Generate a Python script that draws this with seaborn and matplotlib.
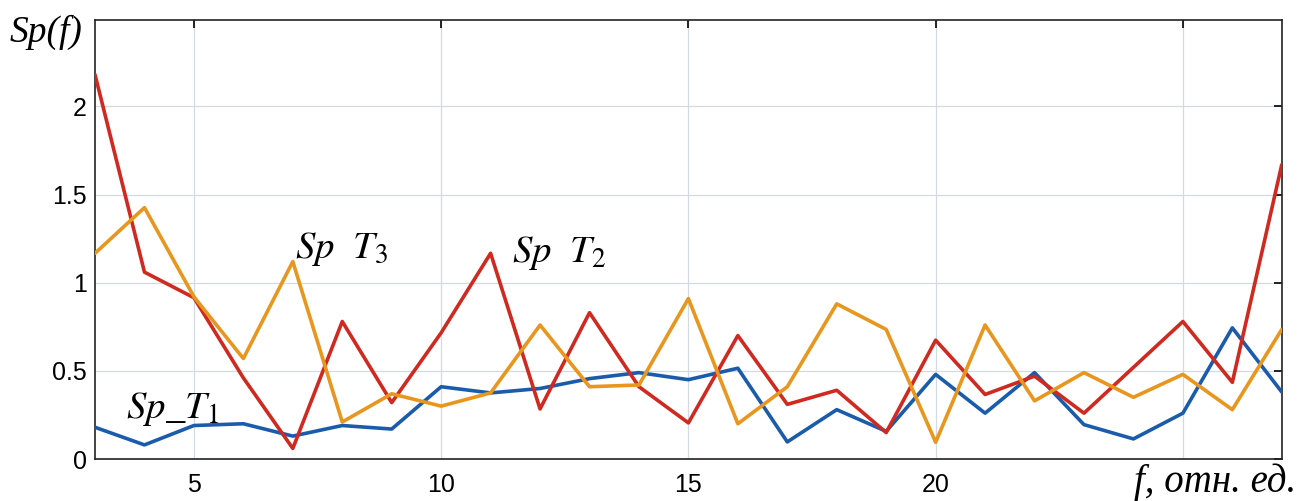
import numpy as np
import pandas as pd
import matplotlib
matplotlib.use("Agg")
import matplotlib.pyplot as plt
import seaborn as sns

freq = list(range(3, 28))
sp_t1 = [0.18, 0.08, 0.19, 0.20, 0.13, 0.19, 0.17, 0.41, 0.375, 0.40, 0.456, 0.49, 0.45,
         0.515, 0.097, 0.28, 0.157, 0.48, 0.26, 0.49, 0.195, 0.114, 0.26, 0.744, 0.38]
sp_t2 = [2.18, 1.06, 0.915, 0.46, 0.06, 0.78, 0.32, 0.716, 1.167, 0.284, 0.83, 0.41, 0.205,
         0.70, 0.31, 0.39, 0.15, 0.674, 0.366, 0.47, 0.26, 0.52, 0.78, 0.435, 1.67]
sp_t3 = [1.167, 1.426, 0.92, 0.57, 1.12, 0.21, 0.37, 0.30, 0.375, 0.76, 0.41, 0.42, 0.91,
         0.20, 0.41, 0.88, 0.735, 0.095, 0.76, 0.33, 0.49, 0.35, 0.48, 0.28, 0.735]
series_names = ["Sp_T1", "Sp_T2", "Sp_T3"]
colors = ["#1a5cab", "#d02a20", "#e8961e"]
x_ticks = [5, 10, 15, 20, 25]
x_ticklabels = ["5", "10", "15", "20", ""]
y_ticks = [0, 0.5, 1, 1.5, 2]
y_ticklabels = ["0", "0.5", "1", "1.5", "2"]

df = pd.DataFrame({
    "f": freq * 3,
    "Sp": sp_t1 + sp_t2 + sp_t3,
    "series": sum([[n] * len(freq) for n in series_names], []),
})

sns.set_theme(style="white")
plt.rcParams["font.family"] = ["Liberation Sans", "DejaVu Sans"]
plt.rcParams["mathtext.fontset"] = "stix"

fig = plt.figure(figsize=(13.16, 5.01), dpi=100)
ax = fig.add_axes([0.0722, 0.0838, 0.9018, 0.8762])

sns.lineplot(data=df, x="f", y="Sp", hue="series", palette=colors,
             hue_order=series_names, linewidth=2.6, legend=False, ax=ax, zorder=3)

ax.set_xlim(3, 27)
ax.set_ylim(0, 2.49)
ax.set_xticks(x_ticks)
ax.set_xticklabels(x_ticklabels)
ax.set_yticks(y_ticks)
ax.set_yticklabels(y_ticklabels)
ax.grid(True, color="#d3dae2", linewidth=0.9, zorder=0)
ax.tick_params(direction="in", length=6, width=1.2, colors="black",
               top=True, right=True, labelsize=18, pad=6)
ax.tick_params(axis="x", pad=10)
for s in ax.spines.values():
    s.set_color("#222222")
    s.set_linewidth(1.2)
ax.set_xlabel("")
ax.set_ylabel("")

serif = ["Liberation Serif", "DejaVu Serif"]
fig.text(0.007, 0.916, "Sp(f)", family=serif, style="italic", fontsize=27, color="black")
fig.text(0.862, 0.018, "f, отн. ед.", family=serif, style="italic", fontsize=28, color="black")

ax.text(3.62, 0.23, r"$Sp\_T_{1}$", fontsize=28, color="black")
ax.text(7.05, 1.14, r"$Sp\ \ T_{3}$", fontsize=28, color="black")
ax.text(11.43, 1.12, r"$Sp\ \ T_{2}$", fontsize=28, color="black")

fig.savefig("out.png", dpi=100)
